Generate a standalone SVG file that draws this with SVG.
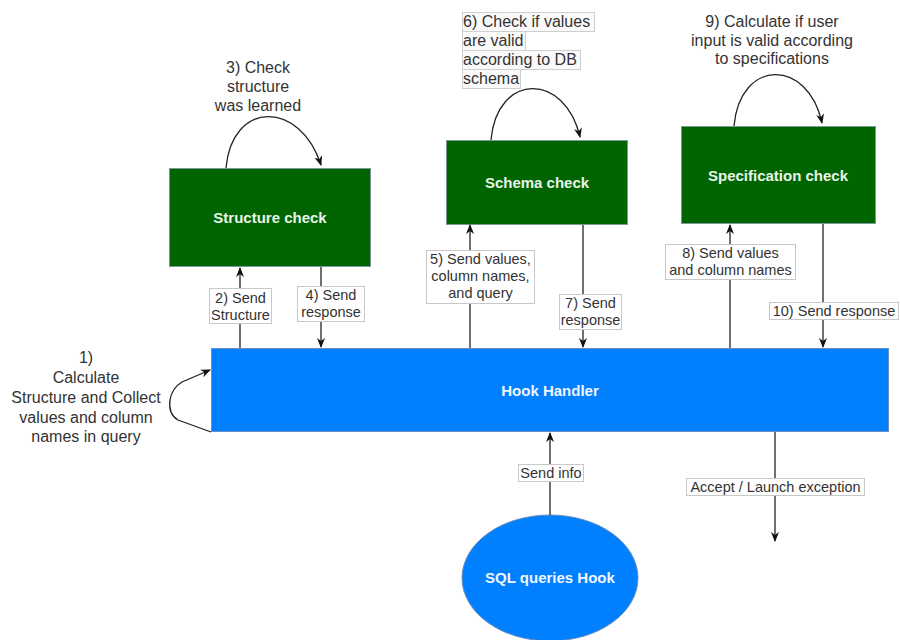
<svg xmlns="http://www.w3.org/2000/svg" width="900" height="640" viewBox="0 0 900 640">
<style>
.node-g{fill:#006400;stroke:#7a9a9a;stroke-width:1}
.node-b{fill:#007FFF;stroke:#6c8ebf;stroke-width:1}
.ntxt{font-family:"Liberation Sans",Arial,sans-serif;font-size:15px;font-weight:bold;fill:#e8f4e8;text-anchor:middle}
.btxt{font-family:"Liberation Sans",Arial,sans-serif;font-size:15px;font-weight:bold;fill:#f0f6ff;text-anchor:middle}
.edge{fill:none;stroke:#222;stroke-width:1.3}
.lbox{fill:#fff;stroke:#c8c8c8;stroke-width:1}
.tbox{fill:#fafafa;stroke:#cfcfcf;stroke-width:1}
.ltxt{font-family:"Liberation Sans",Arial,sans-serif;font-size:14.5px;fill:#333;text-anchor:middle}
.ctxt{font-family:"Liberation Sans",Arial,sans-serif;font-size:16px;fill:#333;text-anchor:middle}
.ctxl{font-family:"Liberation Sans",Arial,sans-serif;font-size:16px;fill:#333}
</style>
<defs>
<marker id="arr" viewBox="0 0 10 10" refX="9" refY="5" markerWidth="10" markerHeight="10" markerUnits="userSpaceOnUse" orient="auto">
<path d="M0,1 L10,5 L0,9 L3,5 z" fill="#111"/>
</marker>
</defs>

<g id="structure-check">
<rect class="node-g" x="169.5" y="168.5" width="201" height="98"/>
<text class="ntxt" x="270" y="223">Structure check</text>
</g>
<g id="schema-check">
<rect class="node-g" x="446.5" y="140.5" width="181" height="84"/>
<text class="ntxt" x="537" y="188">Schema check</text>
</g>
<g id="specification-check">
<rect class="node-g" x="681.5" y="126.5" width="194" height="97"/>
<text class="ntxt" x="778" y="181">Specification check</text>
</g>
<g id="hook-handler">
<rect class="node-b" x="211.5" y="348.5" width="677" height="83"/>
<text class="btxt" x="550" y="396">Hook Handler</text>
</g>
<g id="sql-queries-hook">
<ellipse class="node-b" cx="550" cy="578" rx="88" ry="63"/>
<text class="btxt" x="550" y="583">SQL queries Hook</text>
</g>

<g id="connectors">
<path class="edge" d="M226,168 C232,100 300,100 321,165" marker-end="url(#arr)"/>
<path class="edge" d="M491,140 C497,72 565,72 580,137" marker-end="url(#arr)"/>
<path class="edge" d="M734,126 C740,58 808,58 822,123" marker-end="url(#arr)"/>
<path class="edge" d="M211,432 L178,420 Q168,414 170,400 Q172,388 182,382 L210,370" marker-end="url(#arr)"/>
<path class="edge" d="M240,348 L240,268" marker-end="url(#arr)"/>
<path class="edge" d="M321,267 L321,347" marker-end="url(#arr)"/>
<path class="edge" d="M470,348 L470,225" marker-end="url(#arr)"/>
<path class="edge" d="M583,225 L583,347" marker-end="url(#arr)"/>
<path class="edge" d="M730,348 L730,225" marker-end="url(#arr)"/>
<path class="edge" d="M823,224 L823,347" marker-end="url(#arr)"/>
<path class="edge" d="M550,515 L550,433" marker-end="url(#arr)"/>
<path class="edge" d="M775,432 L775,541" marker-end="url(#arr)"/>
</g>

<g id="labels">
<rect class="lbox" x="209.5" y="288.5" width="62" height="35"/>
<text class="ltxt" x="240.5" y="303">2) Send</text>
<text class="ltxt" x="240.5" y="320">Structure</text>

<rect class="lbox" x="297.5" y="286.5" width="67" height="35"/>
<text class="ltxt" x="331" y="300">4) Send</text>
<text class="ltxt" x="331" y="317">response</text>

<rect class="lbox" x="426.5" y="250.5" width="108" height="53"/>
<text class="ltxt" x="480.5" y="264">5) Send values,</text>
<text class="ltxt" x="480.5" y="281">column names,</text>
<text class="ltxt" x="480.5" y="298">and query</text>

<rect class="lbox" x="559.5" y="294.5" width="62" height="35"/>
<text class="ltxt" x="590.5" y="308">7) Send</text>
<text class="ltxt" x="590.5" y="325">response</text>

<rect class="lbox" x="665.5" y="244.5" width="130" height="35"/>
<text class="ltxt" x="730.5" y="258">8) Send values</text>
<text class="ltxt" x="730.5" y="275">and column names</text>

<rect class="lbox" x="769.5" y="302.5" width="129" height="17"/>
<text class="ltxt" x="834" y="316">10) Send response</text>

<rect class="lbox" x="518.5" y="464.5" width="65" height="17"/>
<text class="ltxt" x="551" y="478">Send info</text>

<rect class="lbox" x="686.5" y="478.5" width="178" height="17"/>
<text class="ltxt" x="775.5" y="492">Accept / Launch exception</text>

<text class="ctxt" x="258" y="73">3) Check</text>
<text class="ctxt" x="258" y="92">structure</text>
<text class="ctxt" x="258" y="111">was learned</text>

<rect class="tbox" x="462.5" y="12.5" width="132" height="19"/>
<rect class="tbox" x="462.5" y="31.5" width="63" height="19"/>
<rect class="tbox" x="462.5" y="50.5" width="118" height="19"/>
<rect class="tbox" x="462.5" y="69.5" width="58" height="19"/>
<text class="ctxl" x="463" y="27">6) Check if values</text>
<text class="ctxl" x="463" y="46">are valid</text>
<text class="ctxl" x="463" y="65">according to DB</text>
<text class="ctxl" x="463" y="84">schema</text>

<text class="ctxt" x="772" y="27">9) Calculate if user</text>
<text class="ctxt" x="772" y="46">input is valid according</text>
<text class="ctxt" x="772" y="64">to specifications</text>

<text class="ctxt" x="86" y="363">1)</text>
<text class="ctxt" x="86" y="383">Calculate</text>
<text class="ctxt" x="86" y="403">Structure and Collect</text>
<text class="ctxt" x="86" y="423">values and column</text>
<text class="ctxt" x="86" y="442">names in query</text>
</g>
</svg>
